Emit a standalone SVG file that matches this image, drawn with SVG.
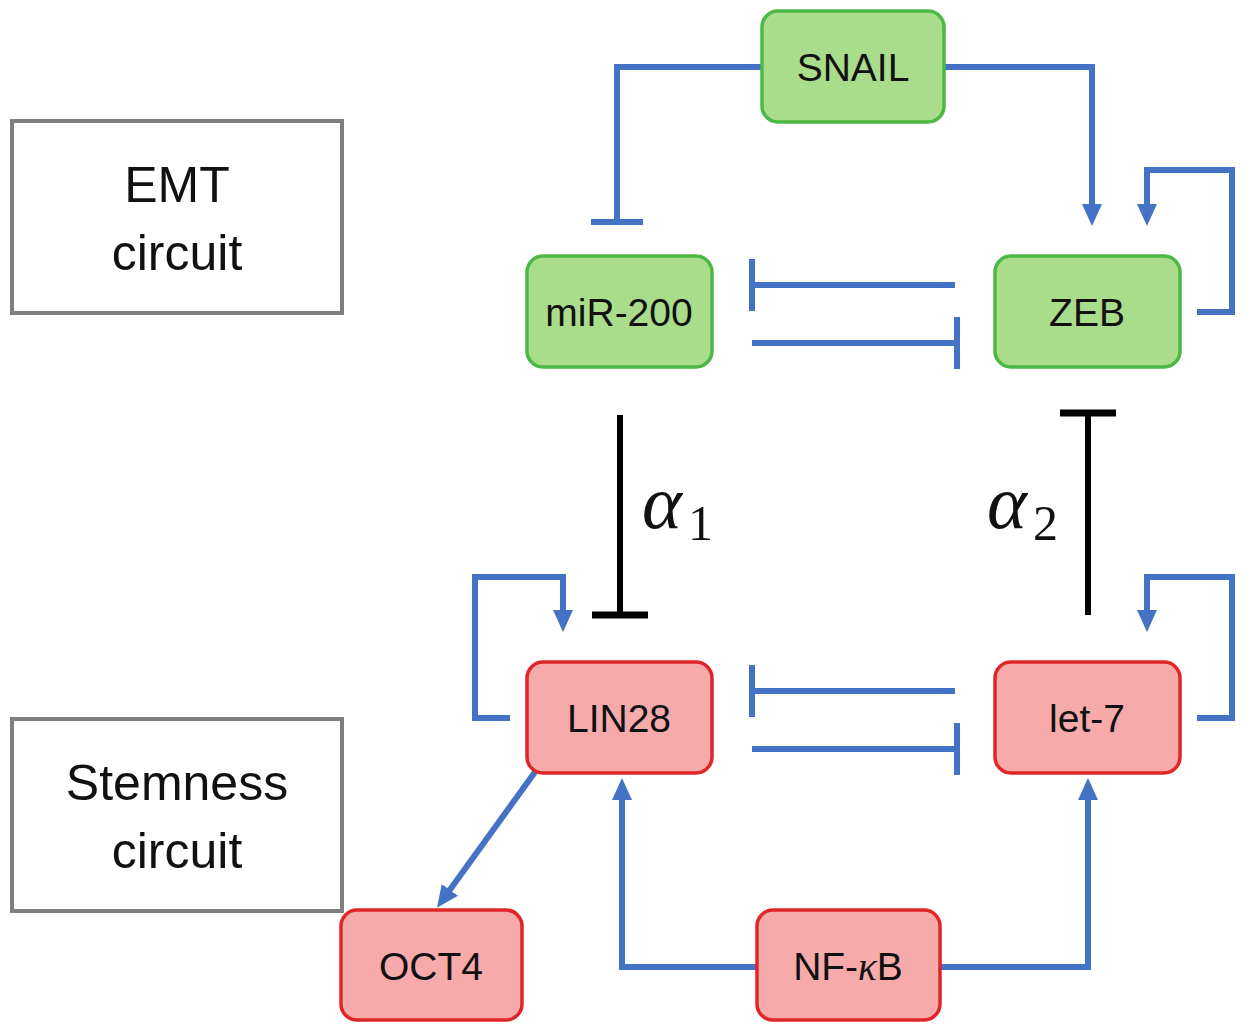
<svg xmlns="http://www.w3.org/2000/svg" width="1244" height="1024" viewBox="0 0 1244 1024">
<style>
.bg{fill:#ffffff}
.lbl{fill:none;stroke:#7f7f7f;stroke-width:4}
.g{fill:#a9dc8b;stroke:#4cb845;stroke-width:3.5}
.r{fill:#f6aaaa;stroke:#e0262b;stroke-width:3.5}
.t{font-family:"Liberation Sans",Arial,sans-serif;font-size:39px;fill:#111;text-anchor:middle}
.big{font-family:"Liberation Sans",Arial,sans-serif;font-size:50px;fill:#111;text-anchor:middle}
.b{fill:none;stroke:#4472c4;stroke-width:6}
.k{fill:none;stroke:#000;stroke-width:6}
.math{font-family:"Liberation Serif","DejaVu Serif",serif;fill:#111}
</style>
<defs>
<marker id="arr" markerUnits="userSpaceOnUse" viewBox="0 0 22 20" markerWidth="22" markerHeight="20" refX="10" refY="10" orient="auto">
<path d="M0,0 L22,10 L0,20 z" fill="#4472c4"/>
</marker>
<marker id="tb" markerUnits="userSpaceOnUse" viewBox="-4 -28 8 56" markerWidth="8" markerHeight="56" refX="0" refY="0" orient="auto">
<path d="M0,-26 L0,26" stroke="#4472c4" stroke-width="6"/>
</marker>
<marker id="tk" markerUnits="userSpaceOnUse" viewBox="-4 -30 8 60" markerWidth="8" markerHeight="60" refX="0" refY="0" orient="auto">
<path d="M0,-28 L0,28" stroke="#000" stroke-width="7"/>
</marker>
</defs>
<rect class="bg" x="0" y="0" width="1244" height="1024"/>

<g id="connectors">
<path class="b" d="M762,67 H617 V222" marker-end="url(#tb)"/>
<path class="b" d="M944,67 H1092 V214" marker-end="url(#arr)"/>
<path class="b" d="M1197,312 H1232 V170 H1147 V214" marker-end="url(#arr)"/>
<path class="b" d="M955,285 H752" marker-end="url(#tb)"/>
<path class="b" d="M752,343 H957" marker-end="url(#tb)"/>
<path class="k" d="M620,415 V615" marker-end="url(#tk)"/>
<path class="k" d="M1088,615 V413" marker-end="url(#tk)"/>
<path class="b" d="M510,718 H475 V577 H563 V620" marker-end="url(#arr)"/>
<path class="b" d="M1197,718 H1232 V577 H1147 V620" marker-end="url(#arr)"/>
<path class="b" d="M955,691 H752" marker-end="url(#tb)"/>
<path class="b" d="M752,749 H957" marker-end="url(#tb)"/>
<path class="b" d="M535,772 L444,898" marker-end="url(#arr)"/>
<path class="b" d="M757,967 H622 V790" marker-end="url(#arr)"/>
<path class="b" d="M940,967 H1088 V790" marker-end="url(#arr)"/>
<text class="math" x="642" y="528" font-size="76" font-style="italic">α</text>
<text class="math" x="688" y="540" font-size="50">1</text>
<text class="math" x="987" y="528" font-size="76" font-style="italic">α</text>
<text class="math" x="1033" y="540" font-size="50">2</text>
</g>

<g id="emt-label">
<rect class="lbl" x="12" y="121" width="330" height="192"/>
<text class="big" x="177" y="202">EMT</text>
<text class="big" x="177" y="270">circuit</text>
</g>
<g id="stemness-label">
<rect class="lbl" x="12" y="719" width="330" height="192"/>
<text class="big" x="177" y="800">Stemness</text>
<text class="big" x="177" y="868">circuit</text>
</g>

<g id="snail">
<rect class="g" x="762" y="11" width="182" height="111" rx="16"/>
<text class="t" x="853" y="81">SNAIL</text>
</g>
<g id="mir200">
<rect class="g" x="527" y="256" width="185" height="111" rx="16"/>
<text class="t" x="619" y="326">miR-200</text>
</g>
<g id="zeb">
<rect class="g" x="995" y="256" width="185" height="111" rx="16"/>
<text class="t" x="1087" y="326">ZEB</text>
</g>
<g id="lin28">
<rect class="r" x="527" y="662" width="185" height="111" rx="16"/>
<text class="t" x="619" y="732">LIN28</text>
</g>
<g id="let7">
<rect class="r" x="995" y="662" width="185" height="111" rx="16"/>
<text class="t" x="1087" y="732">let-7</text>
</g>
<g id="oct4">
<rect class="r" x="341" y="910" width="181" height="110" rx="16"/>
<text class="t" x="431" y="980">OCT4</text>
</g>
<g id="nfkb">
<rect class="r" x="757" y="910" width="183" height="110" rx="16"/>
<text class="t" x="848" y="980">NF-<tspan font-family="'Liberation Serif',serif" font-style="italic">κ</tspan>B</text>
</g>
</svg>
